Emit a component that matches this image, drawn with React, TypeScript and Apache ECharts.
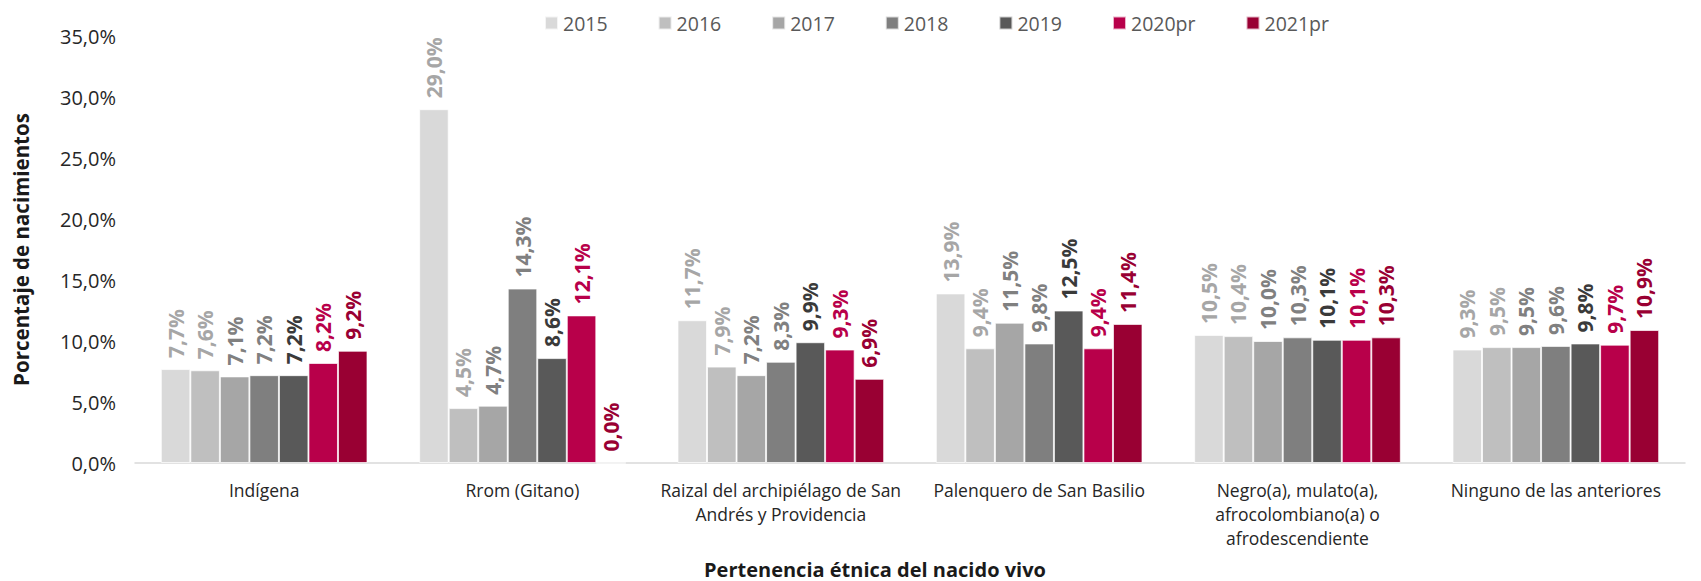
import React, { useEffect, useRef } from "react";
import * as echarts from "echarts";

const categories = [
  "Indígena",
  "Rrom (Gitano)",
  "Raizal del archipiélago de San\nAndrés y Providencia",
  "Palenquero de San Basilio",
  "Negro(a), mulato(a),\nafrocolombiano(a) o\nafrodescendiente",
  "Ninguno de las anteriores",
];

const seriesNames = ["2015", "2016", "2017", "2018", "2019", "2020pr", "2021pr"];

const v2015 = [7.7, 29.0, 11.7, 13.9, 10.5, 9.3];
const v2016 = [7.6, 4.5, 7.9, 9.4, 10.4, 9.5];
const v2017 = [7.1, 4.7, 7.2, 11.5, 10.0, 9.5];
const v2018 = [7.2, 14.3, 8.3, 9.8, 10.3, 9.6];
const v2019 = [7.2, 8.6, 9.9, 12.5, 10.1, 9.8];
const v2020pr = [8.2, 12.1, 9.3, 9.4, 10.1, 9.7];
const v2021pr = [9.2, 0.0, 6.9, 11.4, 10.3, 10.9];

const seriesValues = [v2015, v2016, v2017, v2018, v2019, v2020pr, v2021pr];

const barColors = ["#d9d9d9", "#bfbfbf", "#a6a6a6", "#7f7f7f", "#595959", "#b8004a", "#990033"];
const labelColors = ["#a6a6a6", "#a6a6a6", "#808080", "#808080", "#3a3a3a", "#b8004a", "#990033"];

const yTicks = { min: 0, max: 35, interval: 5 };

const fmt = (v: number) => v.toFixed(1).replace(".", ",") + "%";

const FONT = "'Open Sans', 'Noto Sans', sans-serif";

export default function App() {
  const ref = useRef<HTMLDivElement>(null);
  useEffect(() => {
    if (!ref.current) return;
    const chart = echarts.init(ref.current, null, { renderer: "svg" });
    chart.setOption({
      animation: false,
      textStyle: { fontFamily: FONT },
      legend: {
        top: 8,
        left: 539,
        itemWidth: 13,
        itemHeight: 13,
        itemGap: 50,
        icon: "rect",
        textStyle: { fontSize: 19.5, color: "#595959", fontFamily: FONT },
        data: seriesNames,
      },
      grid: { left: 135, right: 16, top: 36, bottom: 118, containLabel: false },
      xAxis: {
        type: "category",
        data: categories,
        axisLine: { show: true, lineStyle: { color: "#d9d9d9", width: 1.5 } },
        axisTick: { show: false },
        axisLabel: {
          interval: 0,
          color: "#262626",
          fontSize: 17.5,
          lineHeight: 24,
          margin: 15,
          fontFamily: FONT,
        },
      },
      yAxis: {
        type: "value",
        min: yTicks.min,
        max: yTicks.max,
        interval: yTicks.interval,
        splitLine: { show: false },
        axisLine: { show: false },
        axisTick: { show: false },
        axisLabel: {
          formatter: (v: number) => fmt(v),
          fontSize: 20,
          color: "#262626",
          margin: 19,
          fontFamily: FONT,
        },
        name: "Porcentaje de nacimientos",
        nameLocation: "middle",
        nameGap: 104,
        nameTextStyle: { fontSize: 20.5, fontWeight: "bold", color: "#1a1a1a", fontFamily: FONT },
      },
      graphic: [
        {
          type: "text",
          x: 875,
          y: 569,
          style: {
            text: "Pertenencia étnica del nacido vivo",
            fontSize: 20,
            fontWeight: "bold",
            fill: "#1a1a1a",
            fontFamily: FONT,
            align: "center",
            verticalAlign: "middle",
          },
        },
      ],
      series: seriesNames.map((name, i) => ({
        name,
        type: "bar",
        data: seriesValues[i],
        barGap: "0%",
        barCategoryGap: "20%",
        itemStyle: { color: barColors[i], borderColor: "rgba(255,255,255,0.7)", borderWidth: 1 },
        label: {
          show: true,
          position: "top",
          rotate: 90,
          align: "left",
          verticalAlign: "middle",
          distance: 11,
          fontSize: 21,
          fontWeight: "bold",
          color: labelColors[i],
          fontFamily: FONT,
          formatter: (p: any) => fmt(p.value),
        },
      })),
    });
    return () => chart.dispose();
  }, []);
  return (
    <div
      ref={ref}
      style={{ position: "fixed", left: 0, top: 0, width: 1701, height: 581, background: "#fff" }}
    />
  );
}
